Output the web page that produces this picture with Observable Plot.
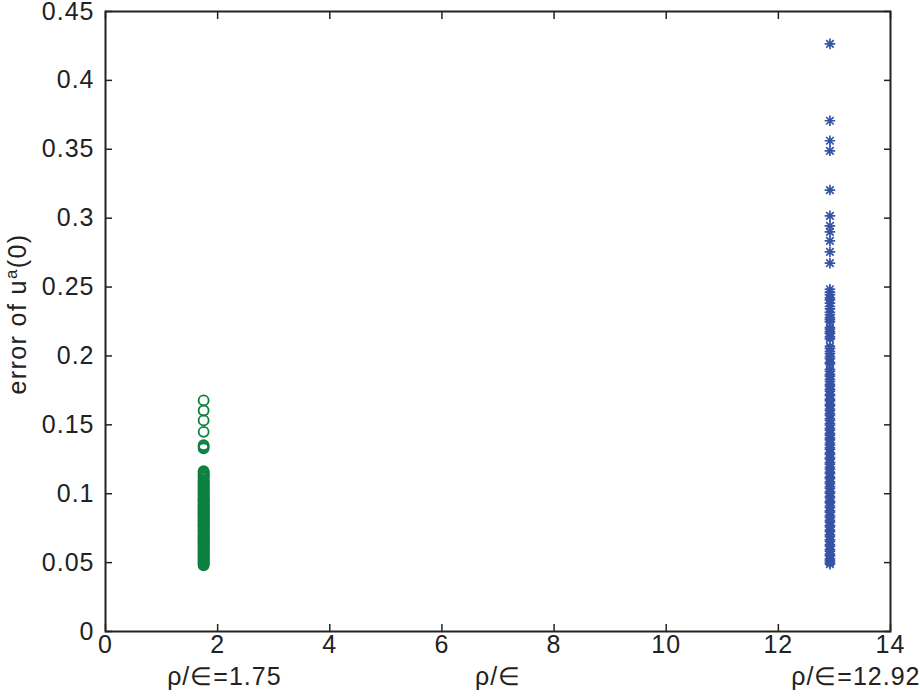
<!DOCTYPE html>
<html>
<head>
<meta charset="utf-8">
<script src="https://cdn.jsdelivr.net/npm/d3@7"></script>
<script src="https://cdn.jsdelivr.net/npm/@observablehq/plot@0.6"></script>
<style>
  html, body { margin: 0; padding: 0; background: #fff; }
  svg { display: block; }
</style>
</head>
<body>
<div id="chart"></div>
<script>
// ---- data ----
const greenX = 1.75;
const greenErrors = [
  0.1677, 0.1604, 0.1532, 0.1449, 0.1352, 0.1341, 0.1330,
  0.1163, 0.1157, 0.1149, 0.1140, 0.1131, 0.1126, 0.1119, 0.1108, 0.1097,
  0.1091, 0.1083, 0.1077, 0.1071, 0.1064, 0.1058, 0.1052, 0.1046, 0.1039,
  0.1032, 0.1026, 0.1019, 0.1011, 0.1004, 0.0999, 0.0993, 0.0987, 0.0981,
  0.0974, 0.0968, 0.0961, 0.0955, 0.0951, 0.0947, 0.0941, 0.0936, 0.0928,
  0.0921, 0.0917, 0.0912, 0.0905, 0.0899, 0.0893, 0.0887, 0.0879, 0.0871,
  0.0868, 0.0864, 0.0858, 0.0852, 0.0848, 0.0843, 0.0836, 0.0829, 0.0823,
  0.0817, 0.0811, 0.0806, 0.0801, 0.0795, 0.0788, 0.0781, 0.0776, 0.0772,
  0.0768, 0.0764, 0.0757, 0.0751, 0.0744, 0.0738, 0.0733, 0.0729, 0.0722,
  0.0716, 0.0709, 0.0703, 0.0698, 0.0694, 0.0688, 0.0682, 0.0676, 0.0671,
  0.0667, 0.0663, 0.0655, 0.0648, 0.0642, 0.0637, 0.0631, 0.0626, 0.0620,
  0.0614, 0.0608, 0.0602, 0.0597, 0.0591, 0.0585, 0.0579, 0.0572, 0.0566,
  0.0559, 0.0553, 0.0547, 0.0541, 0.0534, 0.0528, 0.0522, 0.0516, 0.0510,
  0.0504, 0.0498, 0.0492, 0.0487, 0.0481
];
const blueX = 12.92;
const blueErrors = [
  0.4265, 0.3707, 0.3562, 0.3489, 0.3204, 0.3017, 0.2944, 0.2901, 0.2835,
  0.2755, 0.2673,
  0.2484, 0.2463, 0.2445, 0.2421, 0.2407, 0.2383, 0.2359, 0.2341, 0.2316,
  0.2299, 0.2278, 0.2264, 0.2247, 0.2206, 0.2193, 0.2174, 0.2161, 0.2139,
  0.2124, 0.2069, 0.2055, 0.2032, 0.2016, 0.1995, 0.1981, 0.1954, 0.1943,
  0.1902, 0.1889, 0.1866, 0.1853, 0.1831, 0.1816, 0.1794, 0.1781, 0.1759,
  0.1744, 0.1722, 0.1711, 0.1686, 0.1674, 0.1649, 0.1638, 0.1615, 0.1603,
  0.1581, 0.1569, 0.1544, 0.1533, 0.1509, 0.1497, 0.1474, 0.1462, 0.1438,
  0.1426, 0.1403, 0.1391, 0.1368, 0.1355, 0.1333, 0.1321, 0.1297, 0.1286,
  0.1262, 0.1251, 0.1227, 0.1215, 0.1192, 0.1179, 0.1157, 0.1145, 0.1121,
  0.1109, 0.1086, 0.1074, 0.1051, 0.1039, 0.1015, 0.1004, 0.0981, 0.0969,
  0.0946, 0.0934, 0.0911, 0.0899, 0.0876, 0.0864, 0.0841, 0.0829, 0.0806,
  0.0794, 0.0771, 0.0759, 0.0736, 0.0724, 0.0701, 0.0689, 0.0666, 0.0654,
  0.0631, 0.0619, 0.0596, 0.0584, 0.0561, 0.0549, 0.0527, 0.0514, 0.0501,
  0.0489
];
const xTicks = [0, 2, 4, 6, 8, 10, 12, 14];
const yTicks = [0, 0.05, 0.1, 0.15, 0.2, 0.25, 0.3, 0.35, 0.4, 0.45];
const yTickLabels = ["0", "0.05", "0.1", "0.15", "0.2", "0.25", "0.3", "0.35", "0.4", "0.45"];
const annotations = ["ρ/∈=1.75", "ρ/∈", "ρ/∈=12.92"];

const greenPts = greenErrors.map(e => ({x: greenX, e}));
const bluePts = blueErrors.map(e => ({x: blueX, e}));

const GREEN = "#0d8040";
const BLUE = "#3653a6";
const INK = "#222";
const FONT = "Helvetica, 'Liberation Sans', Arial, sans-serif";
const FS = 25;
const LS = "1px";

// MATLAB-style 8-spoke asterisk
const asterisk8 = {
  draw(ctx, size) {
    const r = Math.sqrt(size / Math.PI);
    const d = r * Math.SQRT1_2;
    ctx.moveTo(-r, 0); ctx.lineTo(r, 0);
    ctx.moveTo(0, -r); ctx.lineTo(0, r);
    ctx.moveTo(-d, -d); ctx.lineTo(d, d);
    ctx.moveTo(-d, d); ctx.lineTo(d, -d);
  }
};

const fmtY = d => yTickLabels[yTicks.findIndex(t => Math.abs(t - d) < 1e-9)];
const blank = () => "";

const plot = Plot.plot({
  width: 920,
  height: 699,
  marginLeft: 105,
  marginRight: 30,
  marginTop: 11,
  marginBottom: 68,
  style: {fontFamily: FONT, fontSize: FS + "px", color: INK, background: "#fff", letterSpacing: LS},
  x: {domain: [0, 14]},
  y: {domain: [0, 0.45]},
  marks: [
    // tick labels
    Plot.axisX({anchor: "bottom", ticks: xTicks, tickSize: 0, tickPadding: 4, tickFormat: d => String(d), label: null, fontSize: FS, fill: INK}),
    Plot.axisY({anchor: "left", ticks: yTicks, tickSize: 0, tickPadding: 11, tickFormat: fmtY, label: null, fontSize: FS, fill: INK}),
    // inward tick marks on all four sides
    Plot.axisX({anchor: "bottom", ticks: xTicks, tickSize: -7, tickFormat: blank, label: null, stroke: INK, strokeWidth: 1.5}),
    Plot.axisX({anchor: "top", ticks: xTicks, tickSize: -7, tickFormat: blank, label: null, stroke: INK, strokeWidth: 1.5}),
    Plot.axisY({anchor: "left", ticks: yTicks, tickSize: -7, tickFormat: blank, label: null, stroke: INK, strokeWidth: 1.5}),
    Plot.axisY({anchor: "right", ticks: yTicks, tickSize: -7, tickFormat: blank, label: null, stroke: INK, strokeWidth: 1.5}),
    Plot.dot(greenPts, {x: "x", y: "e", r: 5, symbol: "circle", stroke: GREEN, strokeWidth: 1.8, fill: "none"}),
    Plot.dot(bluePts, {x: "x", y: "e", r: 5.3, symbol: asterisk8, stroke: BLUE, strokeWidth: 1.7, fill: "none"}),
    Plot.frame({stroke: INK, strokeWidth: 2}),
    Plot.text([annotations[0]], {x: [2.12], frameAnchor: "bottom", dy: 53, fontSize: FS, fill: INK, text: d => d}),
    Plot.text([annotations[1]], {x: [7], frameAnchor: "bottom", dy: 53, fontSize: FS, fill: INK, text: d => d}),
    Plot.text([annotations[2]], {frameAnchor: "bottom-right", textAnchor: "end", dx: 30, dy: 53, fontSize: FS, fill: INK, text: d => d})
  ]
});

document.getElementById("chart").appendChild(plot);

// y-axis label with superscript
const svg = d3.select(plot);
const yl = svg.append("text")
  .attr("transform", `translate(26, 314) rotate(-90)`)
  .attr("text-anchor", "middle")
  .attr("fill", INK)
  .style("font-family", FONT)
  .style("font-size", FS + "px")
  .style("letter-spacing", "1.4px");
yl.append("tspan").text("error of u");
yl.append("tspan").attr("baseline-shift", "super").style("font-size", "17px").text("a");
yl.append("tspan").text("(0)");
</script>
</body>
</html>
